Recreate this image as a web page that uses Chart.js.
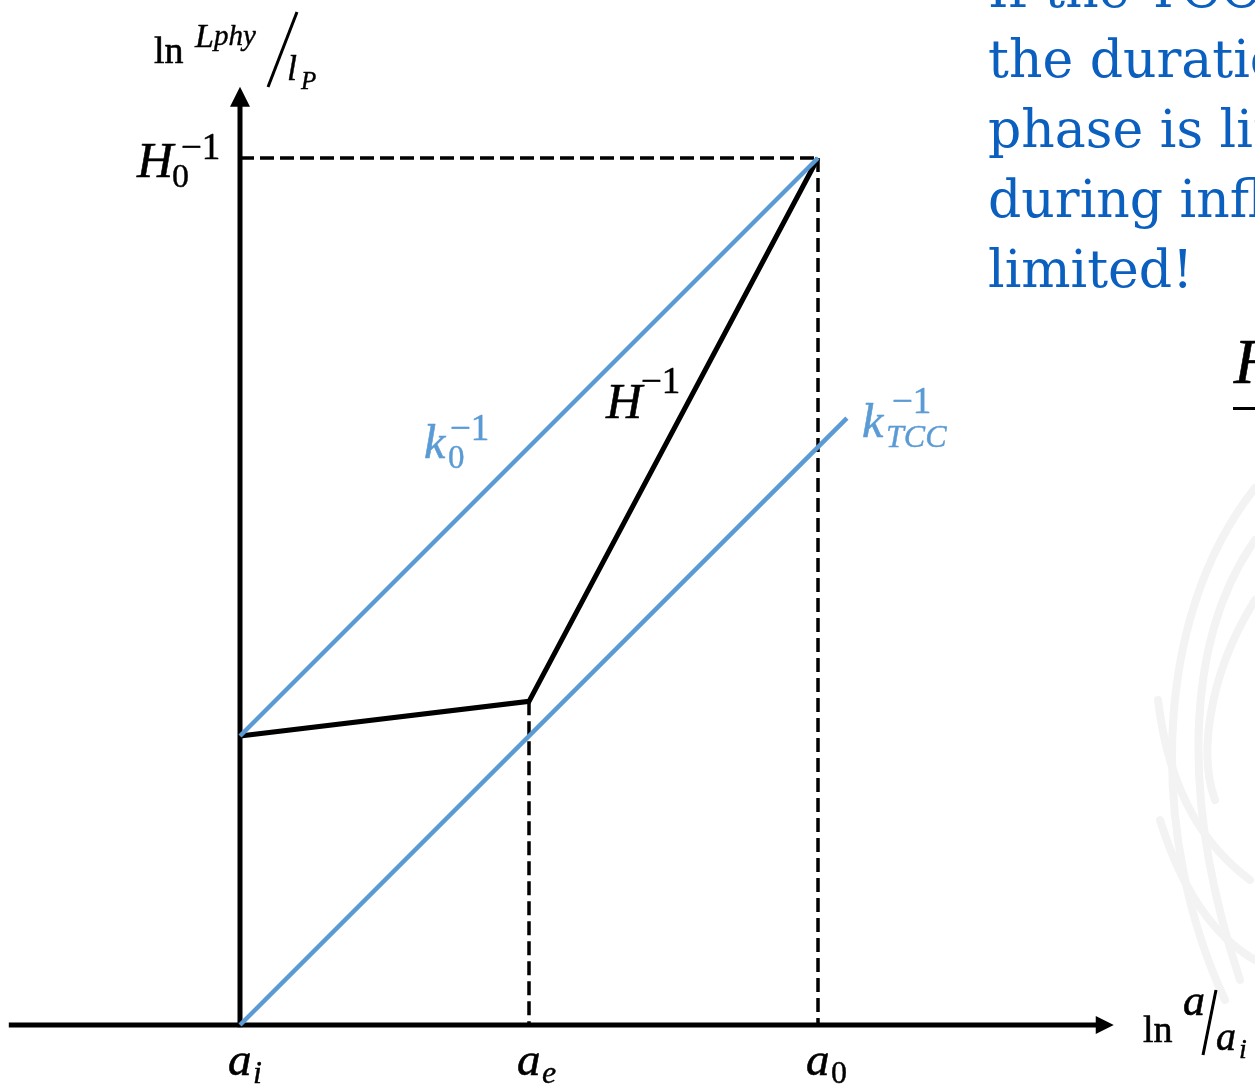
<!DOCTYPE html>
<html>
<head>
<meta charset="utf-8">
<title>Horizon scales and the TCC</title>
<script src="https://cdn.jsdelivr.net/npm/chart.js@4.4.1/dist/chart.umd.min.js"></script>
<style>
  html, body { margin: 0; padding: 0; background: #ffffff; overflow: hidden; }
  #wrap { position: relative; width: 1255px; height: 1090px; }
</style>
</head>
<body>
<div id="wrap"><canvas id="c"></canvas></div>
<script>
// ln(a/a_i) positions of the marked scale factors
const xMarks = [0, 10, 20];
const xMarkLabels = [['a', 'i', true], ['a', 'e', true], ['a', '0', false]];

// Hubble radius H^-1 : slow growth during inflation, fast afterwards
const hubbleX = [0, 10, 20];
const hubbleY = [10, 11.2, 30];

// present-day mode k0^-1
const k0X = [0, 20];
const k0Y = [10, 30];

// TCC mode k_TCC^-1
const kTccX = [0, 21];
const kTccY = [0, 21];

// present Hubble radius H0^-1
const h0 = 30;

// axis extents (data units)
const xAxisFrom = -8, xAxisTo = 30.2, yAxisTo = 32.4;

const BLUE = '#5b9bd5';
const TEXT_BLUE = '#0a5fbf';

const pts = (xs, ys) => xs.map((x, i) => ({ x, y: ys[i] }));

// pixel scale: 28.9 px per unit on both axes, origin at (240, 1025)
const PX = 28.9, OX = 240, OY = 1025, W = 1255, H = 1090;

const DASH = [14, 6];
const datasets = [
  { label: 'kTCC', data: pts(kTccX, kTccY), borderColor: BLUE, borderWidth: 4.5 },
  { label: 'k0', data: pts(k0X, k0Y), borderColor: BLUE, borderWidth: 4.5 },
  { label: 'H', data: pts(hubbleX, hubbleY), borderColor: '#000', borderWidth: 5 },
  { label: 'x-axis', data: [{ x: xAxisFrom, y: 0 }, { x: xAxisTo - 0.5, y: 0 }], borderColor: '#000', borderWidth: 5 },
  { label: 'y-axis', data: [{ x: 0, y: -0.08 }, { x: 0, y: yAxisTo - 0.5 }], borderColor: '#000', borderWidth: 5 },
  { label: 'H0 level', data: [{ x: 0, y: h0 }, { x: xMarks[2], y: h0 }], borderColor: '#000', borderWidth: 3.5, borderDash: DASH },
  { label: 'a0 drop', data: [{ x: xMarks[2], y: h0 }, { x: xMarks[2], y: 0 }], borderColor: '#000', borderWidth: 3.5, borderDash: DASH },
  { label: 'ae drop', data: [{ x: xMarks[1], y: hubbleY[1] }, { x: xMarks[1], y: 0 }], borderColor: '#000', borderWidth: 3.5, borderDash: DASH }
].map(d => Object.assign({ showLine: true, pointRadius: 0, fill: false, tension: 0, borderCapStyle: 'butt' }, d));

function font(size, italic) {
  return (italic ? 'italic ' : '') + size + 'px "Liberation Serif", "DejaVu Serif", serif';
}
// math glyphs, drawn with a thin outline for a slightly heavier stroke
function txt(ctx, s, x, y, size, italic, color) {
  ctx.font = font(size, italic);
  ctx.fillStyle = color || '#000';
  ctx.strokeStyle = color || '#000';
  ctx.lineWidth = size > 36 ? 0.6 : 0.4;
  ctx.lineJoin = 'round';
  ctx.textBaseline = 'alphabetic';
  ctx.textAlign = 'left';
  ctx.fillText(s, x, y);
  ctx.strokeText(s, x, y);
}

const annotate = {
  id: 'annotate',
  beforeDraw(chart) {
    const ctx = chart.ctx;
    ctx.save();
    ctx.fillStyle = '#fff';
    ctx.fillRect(0, 0, chart.width, chart.height);
    // faint leaf watermark at the right edge
    ctx.strokeStyle = '#f3f3f3';
    ctx.lineWidth = 8;
    ctx.lineCap = 'round';
    const curves = [
      [1255, 488, 1150, 620, 1150, 840, 1225, 1000],
      [1255, 540, 1185, 640, 1180, 800, 1240, 980],
      [1255, 600, 1205, 680, 1200, 760, 1215, 800],
      [1158, 700, 1170, 800, 1210, 850, 1250, 880],
      [1160, 820, 1185, 900, 1220, 940, 1255, 960]
    ];
    curves.forEach(c => {
      ctx.beginPath();
      ctx.moveTo(c[0], c[1]);
      ctx.bezierCurveTo(c[2], c[3], c[4], c[5], c[6], c[7]);
      ctx.stroke();
    });
    ctx.restore();
  },
  afterDatasetsDraw(chart) {
    const ctx = chart.ctx;
    const xs = chart.scales.x, ys = chart.scales.y;
    const px = v => xs.getPixelForValue(v), py = v => ys.getPixelForValue(v);
    const ox = px(0), oy = py(0);
    ctx.save();

    // arrow heads
    ctx.fillStyle = '#000';
    const ty = py(yAxisTo);
    ctx.beginPath();
    ctx.moveTo(ox, ty - 2); ctx.lineTo(ox - 10, ty + 18); ctx.lineTo(ox + 10, ty + 18); ctx.closePath(); ctx.fill();
    const tx = px(xAxisTo);
    ctx.beginPath();
    ctx.moveTo(tx + 1, oy); ctx.lineTo(tx - 17, oy - 9); ctx.lineTo(tx - 17, oy + 9); ctx.closePath(); ctx.fill();

    // tick labels a_i, a_e, a_0
    xMarks.forEach((v, i) => {
      const [base, sub, subItalic] = xMarkLabels[i];
      const x = px(v) - 12;
      txt(ctx, base, x, oy + 50, 47, true);
      txt(ctx, sub, x + 25, oy + 58, 32, subItalic);
    });

    // H0^-1 on the vertical axis
    const hy = py(h0);
    txt(ctx, 'H', ox - 103, hy + 19, 50, true);
    txt(ctx, '0', ox - 68, hy + 29, 34, false);
    txt(ctx, '\u22121', ox - 59, hy + 1, 37, false);

    // curve labels
    txt(ctx, 'k', ox + 184, oy - 567, 48, true, BLUE);
    txt(ctx, '0', ox + 208, oy - 557, 33, false, BLUE);
    txt(ctx, '\u22121', ox + 210, oy - 585, 37, false, BLUE);

    txt(ctx, 'H', ox + 366, oy - 607, 50, true);
    txt(ctx, '\u22121', ox + 401, oy - 632, 37, false);

    txt(ctx, 'k', ox + 622, oy - 588, 48, true, BLUE);
    txt(ctx, '\u22121', ox + 652, oy - 612, 37, false, BLUE);
    txt(ctx, 'TCC', ox + 646, oy - 578, 32, true, BLUE);

    // vertical axis title: ln L_phy / l_P
    txt(ctx, 'ln', 154, 63, 38, false);
    txt(ctx, 'L', 195, 47, 34, true);
    txt(ctx, 'phy', 214, 45, 29, true);
    ctx.strokeStyle = '#000';
    ctx.lineWidth = 3;
    ctx.beginPath(); ctx.moveTo(297, 12); ctx.lineTo(268, 87); ctx.stroke();
    txt(ctx, 'l', 287, 80, 36, true);
    txt(ctx, 'P', 301, 89, 25, true);

    // horizontal axis title: ln a / a_i
    txt(ctx, 'ln', 1143, 1042, 38, false);
    txt(ctx, 'a', 1183, 1015, 44, true);
    ctx.strokeStyle = '#000';
    ctx.lineWidth = 3;
    ctx.beginPath(); ctx.moveTo(1216, 990); ctx.lineTo(1203, 1055); ctx.stroke();
    txt(ctx, 'a', 1216, 1050, 40, true);
    txt(ctx, 'i', 1239, 1058, 28, true);

    // text beside the diagram
    ctx.font = '52px "DejaVu Serif", serif';
    ctx.fillStyle = TEXT_BLUE;
    const lines = ['If the TCC holds,', 'the duration of the', 'phase is limited', 'during inflation is', 'limited!'];
    lines.forEach((s, i) => ctx.fillText(s, 988, 7 + i * 70));

    // start of the fraction further right
    txt(ctx, 'H', 1234, 383, 64, true);
    ctx.fillStyle = '#000';
    ctx.fillRect(1233, 407, 30, 3);

    ctx.restore();
  }
};

new Chart(document.getElementById('c'), {
  type: 'scatter',
  data: { datasets },
  options: {
    responsive: true,
    maintainAspectRatio: false,
    animation: false,
    events: [],
    layout: { padding: 0 },
    plugins: { legend: { display: false }, tooltip: { enabled: false } },
    scales: {
      x: { type: 'linear', display: false, min: -OX / PX, max: (W - OX) / PX },
      y: { type: 'linear', display: false, min: -(H - OY) / PX, max: OY / PX }
    }
  },
  plugins: [annotate]
});
</script>
</body>
</html>
